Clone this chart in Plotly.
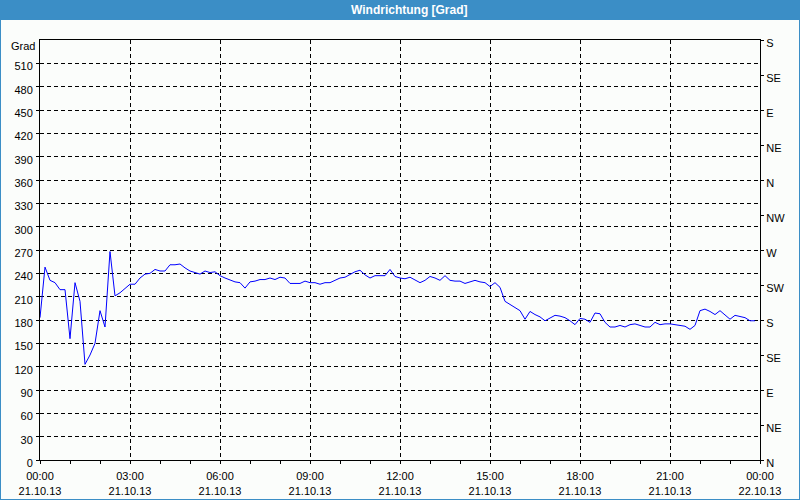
import pandas as pd
import plotly.graph_objects as go

# ---- data ----
start_time = "2013-10-21 00:00"
end_time = "2013-10-22 00:00"
direction = [
    183, 248, 231, 228, 219, 219, 156, 228, 204, 123, 135, 150,
    192, 171, 268, 211, 215, 221, 226, 226, 234, 239, 240, 245,
    243, 243, 251, 251, 252, 247, 243, 241, 239, 243, 241, 242,
    237, 234, 231, 229, 228, 221, 229, 230, 232, 232, 234, 232,
    235, 234, 227, 227, 227, 230, 228, 228, 226, 228, 228, 231,
    234, 235, 239, 242, 244, 238, 234, 237, 237, 237, 245, 236,
    234, 233, 235, 232, 228, 231, 236, 234, 231, 237, 231, 230,
    230, 227, 229, 231, 229, 228, 223, 228, 222, 204, 200, 196,
    192, 181, 191, 187, 184, 179, 183, 186, 185, 183, 179, 174,
    182, 181, 177, 189, 188, 177, 171, 171, 173, 171, 174, 175,
    173, 171, 171, 177, 174, 175, 175, 174, 173, 172, 168, 173,
    192, 194, 191, 187, 192, 186, 181, 186, 184, 183, 179, 179,
]
times = pd.date_range(start_time, periods=len(direction), freq="10min")

x_tick_vals = pd.date_range(start_time, end_time, freq="3h")
x_tick_text = [
    "00:00<br>21.10.13", "03:00<br>21.10.13", "06:00<br>21.10.13",
    "09:00<br>21.10.13", "12:00<br>21.10.13", "15:00<br>21.10.13",
    "18:00<br>21.10.13", "21:00<br>21.10.13", "00:00<br>22.10.13",
]
y_tick_vals = [0, 30, 60, 90, 120, 150, 180, 210, 240, 270, 300, 330,
               360, 390, 420, 450, 480, 510]
compass_vals = [0, 45, 90, 135, 180, 225, 270, 315, 360, 405, 450, 495, 540]
compass_text = ["N", "NE", "E", "SE", "S", "SW", "W", "NW", "N", "NE", "E", "SE", "S"]
title_text = "Windrichtung [Grad]"
unit_text = "Grad"

# ---- style ----
BLUE = "#3b8ec6"
BG = "#fbfdfb"
FONT = "Liberation Sans"
W, H = 800, 500
L, R, T, B = 40, 40, 40, 40
pw, ph = W - L - R, H - T - B


def px_x(x):
    return (x - L) / pw


def px_y(y):
    return (H - B - y) / ph


fig = go.Figure()
fig.add_trace(go.Scatter(x=times, y=direction, mode="lines",
                         line=dict(color="#0000ff", width=1), showlegend=False))
# invisible trace for right axis
fig.add_trace(go.Scatter(x=[times[0]], y=[0], yaxis="y2", mode="markers",
                         marker=dict(opacity=0), showlegend=False, hoverinfo="skip"))

tickfont = dict(family=FONT, size=11, color="#000000")

fig.update_layout(
    width=W, height=H,
    margin=dict(l=L, r=R, t=T, b=B, pad=0, autoexpand=False),
    paper_bgcolor=BLUE,
    plot_bgcolor=BG,
    font=dict(family=FONT, size=11, color="#000000"),
    xaxis=dict(
        type="date", automargin=False,
        range=[start_time, end_time],
        tickmode="array", tickvals=x_tick_vals, ticktext=x_tick_text,
        ticks="outside", ticklen=3, tickcolor="#000000", tickwidth=1,
        tickfont=tickfont, ticklabelstandoff=3,
        showgrid=True, gridcolor="#000000", gridwidth=1, griddash="4px,3px",
        showline=True, linecolor="#000000", linewidth=1, mirror=True,
        zeroline=False,
        minor=dict(ticks="outside", ticklen=3, tickcolor="#000000",
                   dtick=3600000, showgrid=False),
    ),
    yaxis=dict(
        range=[0, 540], automargin=False,
        tickmode="array", tickvals=y_tick_vals,
        ticks="outside", ticklen=3, tickcolor="#000000",
        tickfont=tickfont, ticklabelshift=3, ticklabelstandoff=1,
        showgrid=True, gridcolor="#000000", gridwidth=1, griddash="4px,3px",
        showline=True, linecolor="#000000", linewidth=1, mirror=True,
        zeroline=False,
    ),
    yaxis2=dict(
        range=[0, 540], overlaying="y", side="right", automargin=False,
        tickmode="array", tickvals=compass_vals, ticktext=compass_text,
        ticks="outside", ticklen=3, tickcolor="#000000",
        tickfont=tickfont, ticklabelshift=3, ticklabelstandoff=0,
        showgrid=False, zeroline=False,
        showline=True, linecolor="#000000", linewidth=1,
    ),
    shapes=[
        dict(type="rect", xref="paper", yref="paper", layer="below",
             x0=px_x(1), x1=px_x(W - 1), y0=px_y(H - 1), y1=px_y(20),
             fillcolor=BG, line=dict(width=0)),
    ],
    annotations=[
        dict(text="<b>" + title_text + "</b>", xref="paper", yref="paper",
             x=px_x(410), y=px_y(10), showarrow=False,
             xanchor="center", yanchor="middle",
             font=dict(family=FONT, size=12, color="#ffffff")),
        dict(text=unit_text, xref="paper", yref="paper",
             x=px_x(37), y=px_y(46), showarrow=False,
             xanchor="right", yanchor="middle",
             font=tickfont),
    ],
)

fig.write_html("out.html")
